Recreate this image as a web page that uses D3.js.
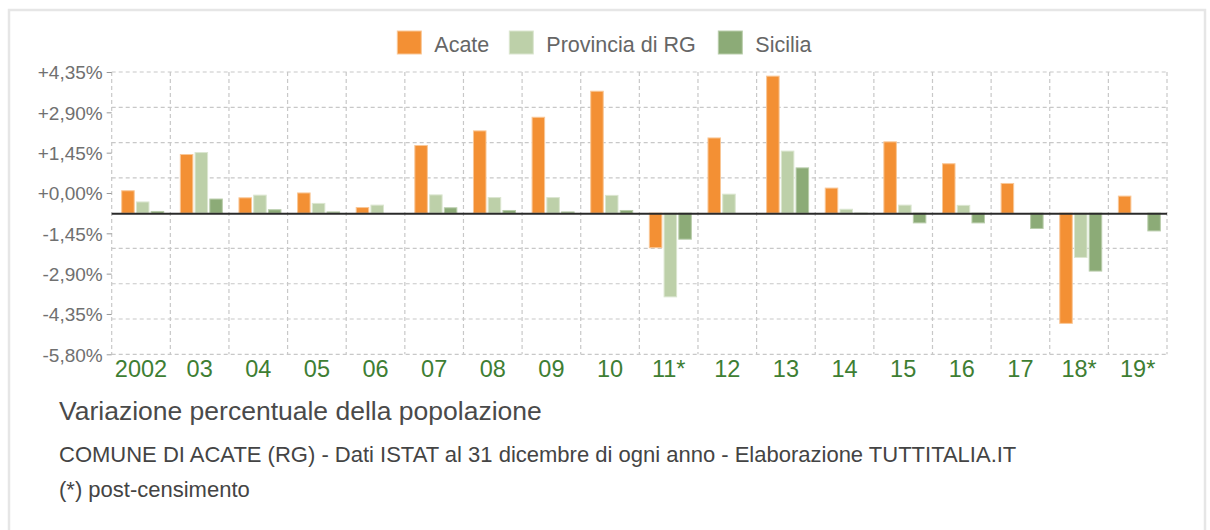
<!DOCTYPE html>
<html lang="it">
<head>
  <meta charset="UTF-8" />
  <title>Variazione percentuale della popolazione - Acate</title>
  <script src="https://d3js.org/d3.v7.min.js"></script>
  <style>
    html, body {
      margin: 0;
      padding: 0;
      background: #fff;
    }
    body {
      font-family: "Liberation Sans", Arial, Helvetica, sans-serif;
      width: 1210px;
      height: 530px;
      overflow: hidden;
    }
    .grid line {
      stroke: #c8c8c8;
      stroke-width: 1.2;
      stroke-dasharray: 4 3;
    }
    .ylab { fill: #707070; font-size: 19px; }
    .xlab { fill: #3e7e33; font-size: 23.5px; }
    .leg { fill: #666; font-size: 21.5px; }
  </style>
</head>
<body>
<svg id="chart" width="1210" height="530"></svg>
<script>
const years = ["2002", "03", "04", "05", "06", "07", "08", "09", "10", "11*",
               "12", "13", "14", "15", "16", "17", "18*", "19*"];
const seriesNames = ["Acate", "Provincia di RG", "Sicilia"];
const acate     = [0.92, 2.41, 0.63, 0.83, 0.23, 2.78, 3.38, 3.94, 5.01, -1.42, 3.09, 5.63, 1.03, 2.93, 2.03, 1.22, -4.53, 0.70];
const provincia = [0.46, 2.49, 0.74, 0.40, 0.33, 0.75, 0.64, 0.64, 0.73, -3.44, 0.78, 2.55, 0.16, 0.33, 0.32, 0, -1.82, 0];
const sicilia   = [0.07, 0.58, 0.14, 0.05, 0, 0.22, 0.11, 0.05, 0.11, -1.07, 0, 1.86, -0.03, -0.40, -0.40, -0.63, -2.38, -0.73];
const gridValues = [5.8, 4.35, 2.9, 1.45, 0, -1.45, -2.9, -4.35, -5.8];
const tickLabels = ["+4,35%", "+2,90%", "+1,45%", "+0,00%", "-1,45%", "-2,90%", "-4,35%", "-5,80%"];
const colors = ["#f39034", "#bdd0a9", "#8cab77"];
const strokes = ["#f9c797", "#dbe6d0", "#b9cdab"];

const svg = d3.select("#chart");

// outer frame
svg.append("rect")
  .attr("x", 9).attr("y", 10)
  .attr("width", 1196).attr("height", 560)
  .attr("fill", "none")
  .attr("stroke", "#e6e6e6")
  .attr("stroke-width", 2.5);

const plotLeft = 111.7, plotRight = 1167, plotTop = 72, plotBottom = 354.3;

const x = d3.scaleBand().domain(years).range([plotLeft, plotRight]).padding(0);
const xs = d3.scaleBand().domain(seriesNames).range([10, 52]).paddingInner(0.15);
const y = d3.scaleLinear().domain([-5.8, 5.8]).range([plotBottom, plotTop]);
const yLab = d3.scalePoint().domain(tickLabels).range([plotTop, plotBottom]);

// grid
const grid = svg.append("g").attr("class", "grid");
grid.selectAll(".h")
  .data(gridValues.filter(d => d !== 0))
  .enter().append("line")
  .attr("x1", plotLeft).attr("x2", plotRight)
  .attr("y1", d => y(d)).attr("y2", d => y(d));
grid.selectAll(".v")
  .data(years.concat(["_end"]))
  .enter().append("line")
  .attr("x1", (d, i) => plotLeft + i * x.step())
  .attr("x2", (d, i) => plotLeft + i * x.step())
  .attr("y1", plotTop).attr("y2", plotBottom);

// y axis labels (ticks placed evenly as in original)
const yAxis = svg.append("g")
  .attr("transform", `translate(${plotLeft},0)`)
  .call(d3.axisLeft(yLab).tickSize(5).tickPadding(4));
yAxis.select(".domain").remove();
yAxis.selectAll(".tick line").attr("stroke", "#999");
yAxis.selectAll(".tick text")
  .attr("class", "ylab")
  .attr("fill", null)
  .attr("dy", "0.36em");
yAxis.attr("font-family", null).attr("font-size", null);

// bars
const data = [acate, provincia, sicilia];
seriesNames.forEach((name, si) => {
  svg.append("g").selectAll("rect")
    .data(data[si])
    .enter().append("rect")
    .attr("x", (d, i) => x(years[i]) + xs(name))
    .attr("width", xs.bandwidth())
    .attr("y", d => y(Math.max(0, d)))
    .attr("height", d => Math.abs(y(d) - y(0)))
    .attr("fill", colors[si])
    .attr("stroke", strokes[si])
    .attr("stroke-width", 1)
    .attr("display", d => d === 0 ? "none" : null);
});

// zero line
svg.append("line")
  .attr("x1", plotLeft).attr("x2", plotRight)
  .attr("y1", y(0) + 0.5).attr("y2", y(0) + 0.5)
  .attr("stroke", "#2a2a2a").attr("stroke-width", 2);

// x labels
svg.append("g").selectAll("text")
  .data(years)
  .enter().append("text")
  .attr("class", "xlab")
  .attr("x", d => x(d) + x.bandwidth() / 2)
  .attr("y", 377)
  .attr("text-anchor", "middle")
  .text(d => d);

// legend
const legX = [397.3, 509.3, 718.3];
const leg = svg.append("g");
seriesNames.forEach((name, i) => {
  leg.append("rect")
    .attr("x", legX[i]).attr("y", 31)
    .attr("width", 24).attr("height", 23)
    .attr("fill", colors[i])
    .attr("stroke", strokes[i]);
  leg.append("text")
    .attr("class", "leg")
    .attr("x", legX[i] + 37).attr("y", 52)
    .text(name);
});

// titles
svg.append("text")
  .attr("x", 59).attr("y", 420)
  .attr("fill", "#4a4a4a").attr("font-size", 26.5)
  .text("Variazione percentuale della popolazione");
svg.append("text")
  .attr("x", 59).attr("y", 462)
  .attr("fill", "#444").attr("font-size", 22)
  .text("COMUNE DI ACATE (RG) - Dati ISTAT al 31 dicembre di ogni anno - Elaborazione TUTTITALIA.IT");
svg.append("text")
  .attr("x", 59).attr("y", 497)
  .attr("fill", "#444").attr("font-size", 22)
  .text("(*) post-censimento");
</script>
</body>
</html>
